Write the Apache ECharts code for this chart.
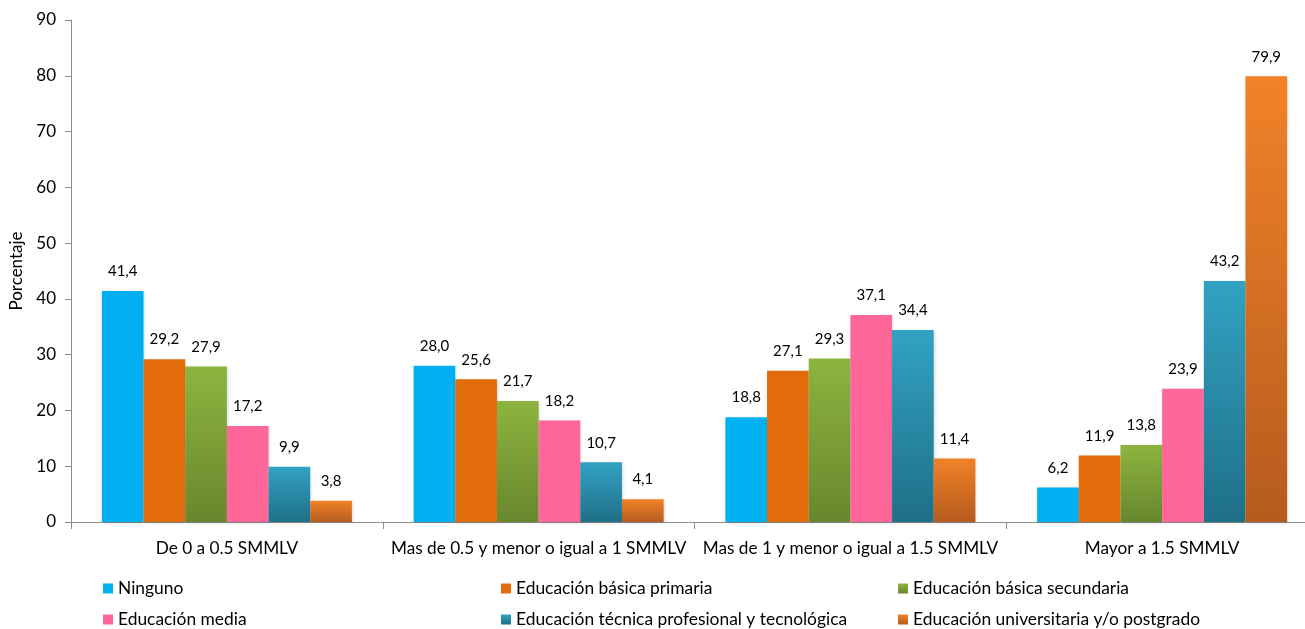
<!DOCTYPE html>
<html>
<head>
<meta charset="utf-8">
<script src="https://cdn.jsdelivr.net/npm/echarts@6/dist/echarts.min.js"></script>
<style>html,body{margin:0;padding:0;background:#fff;}#c{width:1305px;height:629px;}</style>
</head>
<body>
<div id="c"></div>
<script>
const categories = ['De 0 a 0.5 SMMLV', 'Mas de 0.5 y menor o igual a 1 SMMLV', 'Mas de 1 y menor o igual a 1.5 SMMLV', 'Mayor a 1.5 SMMLV'];
const seriesNames = ['Ninguno', 'Educación básica primaria', 'Educación básica secundaria', 'Educación media', 'Educación técnica profesional y tecnológica', 'Educación universitaria y/o postgrado'];
const ninguno = [41.4, 28.0, 18.8, 6.2];
const primaria = [29.2, 25.6, 27.1, 11.9];
const secundaria = [27.9, 21.7, 29.3, 13.8];
const media = [17.2, 18.2, 37.1, 23.9];
const tecnica = [9.9, 10.7, 34.4, 43.2];
const universitaria = [3.8, 4.1, 11.4, 79.9];
const yTicks = [0, 10, 20, 30, 40, 50, 60, 70, 80, 90];

const values = [ninguno, primaria, secundaria, media, tecnica, universitaria];
const grad = (a, b) => new echarts.graphic.LinearGradient(0, 0, 0, 1, [{offset: 0, color: a}, {offset: 1, color: b}]);
const colors = [
  '#00B0F0',
  '#E36C0A',
  grad('#8DB43F', '#68872D'),
  '#FF6699',
  grad('#32A2C3', '#1F6F87'),
  grad('#F28228', '#B55B1E')
];
const FONT = 'Lato';
// legend slots: [series index, left, top]
const legendSlots = [[0, 103, 580], [1, 501, 580], [2, 898, 580], [3, 103, 611], [4, 501, 611], [5, 898, 611]];
const chart = echarts.init(document.getElementById('c'));
chart.setOption({
  animation: false,
  textStyle: {fontFamily: FONT},
  grid: {left: 71, top: 20, right: -13, height: 502, outerBoundsMode: 'none', containLabel: false},
  xAxis: {
    type: 'category', data: categories,
    axisLine: {lineStyle: {color: '#8c8c8c', width: 1}},
    axisTick: {show: true, interval: 0, alignWithLabel: false, length: 7, lineStyle: {color: '#8c8c8c'}},
    axisLabel: {interval: 0, color: '#000', fontSize: 17.2, margin: 18, fontFamily: FONT}
  },
  yAxis: {
    type: 'value', min: 0, max: 90, interval: 10,
    name: 'Porcentaje', nameLocation: 'middle', nameGap: 45, nameRotate: 90,
    nameTextStyle: {color: '#000', fontSize: 17, fontFamily: FONT},
    axisLine: {show: true, lineStyle: {color: '#8c8c8c'}},
    axisTick: {show: true, length: 6, lineStyle: {color: '#8c8c8c'}},
    splitLine: {show: false},
    axisLabel: {color: '#000', fontSize: 17, margin: 15, fontFamily: FONT,
      formatter: v => yTicks.includes(v) ? String(v) : ''}
  },
  legend: legendSlots.map(([i, l, t]) => ({
    data: [seriesNames[i]], left: l, top: t, padding: 0, icon: 'rect', itemWidth: 10, itemHeight: 10,
    textStyle: {color: '#000', fontSize: 17.4, fontFamily: FONT}
  })),
  series: seriesNames.map((n, i) => ({
    name: n, type: 'bar', data: values[i],
    barGap: '0%', barCategoryGap: '19.8%',
    itemStyle: {color: colors[i], shadowColor: 'rgba(0,0,0,0.15)', shadowBlur: 3, shadowOffsetX: 1, shadowOffsetY: 1},
    label: {show: true, position: 'top', distance: 12, color: '#000', fontSize: 15, fontFamily: FONT,
      formatter: p => p.value.toFixed(1).replace('.', ',')}
  }))
});
</script>
</body>
</html>
